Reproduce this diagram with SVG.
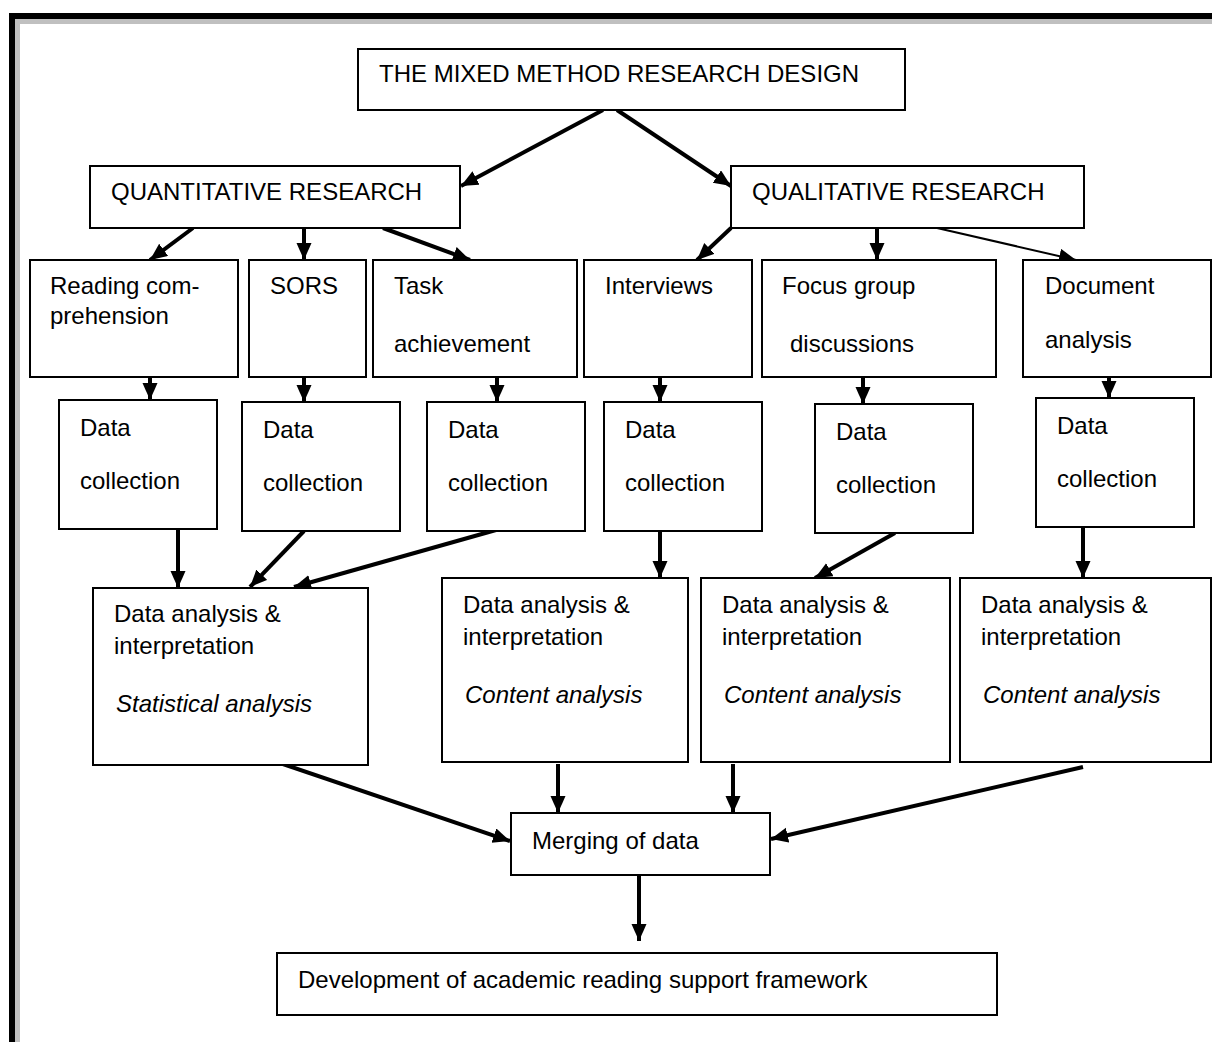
<svg xmlns="http://www.w3.org/2000/svg" width="1212" height="1042" viewBox="0 0 1212 1042">
<style>
.b{fill:#fff;stroke:#000;stroke-width:2}
text{font-family:"Liberation Sans",Arial,sans-serif;font-size:24px;fill:#000}
.i{font-style:italic}
.c{stroke:#000;stroke-width:4;fill:none;marker-end:url(#ah)}
.c.t{stroke-width:2}
</style>
<defs>
<marker id="ah" markerUnits="userSpaceOnUse" markerWidth="18" markerHeight="16" refX="17" refY="7.5" orient="auto">
<path d="M0,0 L17,7.5 L0,15 z" fill="#000"/>
</marker>
</defs>
<rect x="0" y="0" width="1212" height="1042" fill="#fff"/>
<g id="frame">
<path d="M12,1042 V16 H1212" stroke="#000" stroke-width="6" fill="none"/>
<path d="M17.5,1042 V21.5 H1212" stroke="#c0c0c0" stroke-width="5" fill="none"/>
</g>
<g id="connectors">
<line class="c" x1="603" y1="110" x2="461" y2="186"/>
<line class="c" x1="617" y1="110" x2="731" y2="186"/>
<line class="c" x1="193" y1="228" x2="150" y2="260"/>
<line class="c" x1="304" y1="228" x2="304" y2="260"/>
<line class="c" x1="383" y1="228" x2="470" y2="260"/>
<line class="c" x1="731" y1="228" x2="697" y2="260"/>
<line class="c" x1="877" y1="228" x2="877" y2="260"/>
<line class="c t" x1="937" y1="228" x2="1076" y2="260"/>
<line class="c" x1="150" y1="377" x2="150" y2="400"/>
<line class="c" x1="304" y1="377" x2="304" y2="402"/>
<line class="c" x1="497" y1="375" x2="497" y2="402"/>
<line class="c" x1="660" y1="377" x2="660" y2="402"/>
<line class="c" x1="863" y1="377" x2="863" y2="404"/>
<line class="c" x1="1109" y1="377" x2="1109" y2="398"/>
<line class="c" x1="178" y1="529" x2="178" y2="588"/>
<line class="c" x1="304" y1="531" x2="250" y2="587"/>
<line class="c" x1="496" y1="530" x2="294" y2="587"/>
<line class="c" x1="660" y1="531" x2="660" y2="578"/>
<line class="c" x1="895" y1="533" x2="815" y2="578"/>
<line class="c" x1="1083" y1="527" x2="1083" y2="578"/>
<line class="c" x1="280" y1="763" x2="510" y2="841"/>
<line class="c" x1="558" y1="764" x2="558" y2="813"/>
<line class="c" x1="733" y1="764" x2="733" y2="813"/>
<line class="c" x1="1083" y1="767" x2="771" y2="839"/>
<line class="c" x1="639" y1="876" x2="639" y2="941"/>
</g>
<g id="n-title"><rect class="b" x="358" y="49" width="547" height="61"/><text x="379" y="82">THE MIXED METHOD RESEARCH DESIGN</text></g>
<g id="n-quant"><rect class="b" x="90" y="166" width="370" height="62"/><text x="111" y="200">QUANTITATIVE RESEARCH</text></g>
<g id="n-qual"><rect class="b" x="731" y="166" width="353" height="62"/><text x="752" y="200">QUALITATIVE RESEARCH</text></g>
<g id="n-reading"><rect class="b" x="30" y="260" width="208" height="117"/><text x="50" y="294">Reading com-</text><text x="50" y="324">prehension</text></g>
<g id="n-sors"><rect class="b" x="249" y="260" width="117" height="117"/><text x="270" y="294">SORS</text></g>
<g id="n-task"><rect class="b" x="373" y="260" width="204" height="117"/><text x="394" y="294">Task</text><text x="394" y="352">achievement</text></g>
<g id="n-interviews"><rect class="b" x="584" y="260" width="168" height="117"/><text x="605" y="294">Interviews</text></g>
<g id="n-focus"><rect class="b" x="762" y="260" width="234" height="117"/><text x="782" y="294">Focus group</text><text x="790" y="352">discussions</text></g>
<g id="n-document"><rect class="b" x="1023" y="260" width="188" height="117"/><text x="1045" y="294">Document</text><text x="1045" y="348">analysis</text></g>
<g id="n-dc1"><rect class="b" x="59" y="400" width="158" height="129"/><text x="80" y="436">Data</text><text x="80" y="489">collection</text></g>
<g id="n-dc2"><rect class="b" x="242" y="402" width="158" height="129"/><text x="263" y="438">Data</text><text x="263" y="491">collection</text></g>
<g id="n-dc3"><rect class="b" x="427" y="402" width="158" height="129"/><text x="448" y="438">Data</text><text x="448" y="491">collection</text></g>
<g id="n-dc4"><rect class="b" x="604" y="402" width="158" height="129"/><text x="625" y="438">Data</text><text x="625" y="491">collection</text></g>
<g id="n-dc5"><rect class="b" x="815" y="404" width="158" height="129"/><text x="836" y="440">Data</text><text x="836" y="493">collection</text></g>
<g id="n-dc6"><rect class="b" x="1036" y="398" width="158" height="129"/><text x="1057" y="434">Data</text><text x="1057" y="487">collection</text></g>
<g id="n-a1"><rect class="b" x="93" y="588" width="275" height="177"/><text x="114" y="622">Data analysis &amp;</text><text x="114" y="654">interpretation</text><text class="i" x="116" y="712">Statistical analysis</text></g>
<g id="n-a2"><rect class="b" x="442" y="578" width="246" height="184"/><text x="463" y="613">Data analysis &amp;</text><text x="463" y="645">interpretation</text><text class="i" x="465" y="703">Content analysis</text></g>
<g id="n-a3"><rect class="b" x="701" y="578" width="249" height="184"/><text x="722" y="613">Data analysis &amp;</text><text x="722" y="645">interpretation</text><text class="i" x="724" y="703">Content analysis</text></g>
<g id="n-a4"><rect class="b" x="960" y="578" width="251" height="184"/><text x="981" y="613">Data analysis &amp;</text><text x="981" y="645">interpretation</text><text class="i" x="983" y="703">Content analysis</text></g>
<g id="n-merge"><rect class="b" x="511" y="813" width="259" height="62"/><text x="532" y="849">Merging of data</text></g>
<g id="n-dev"><rect class="b" x="277" y="953" width="720" height="62"/><text x="298" y="988">Development of academic reading support framework</text></g>
</svg>
